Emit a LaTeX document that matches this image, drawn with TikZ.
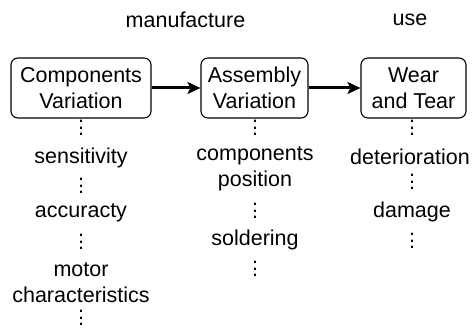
\documentclass[tikz,border=0pt]{standalone}
\usepackage{fontspec}
\setmainfont{Liberation Sans}
\usetikzlibrary{arrows.meta}
\newcommand\myvdots{\vbox{\baselineskip=6.5pt\lineskiplimit=-20pt\hbox{.}\hbox{.}\hbox{.}}}
\tikzset{
  box/.style={draw, line width=1.1pt, rounded corners=7pt, align=center, inner sep=0pt, minimum height=60pt},
  lbl/.style={align=center, inner sep=0pt},
  flow/.style={line width=3pt, -{Stealth[length=13pt,width=12pt,inset=3pt]}},
}
\begin{document}
\begin{tikzpicture}[x=1pt,y=-1pt,font=\fontsize{21.5}{26}\selectfont]
\useasboundingbox (0,0) rectangle (474,329);
\node[lbl] (man) at (185.5,20) {manufacture};
\node[lbl] (use) at (410,20) {use};
\node[box, minimum width=140pt] (cv) at (81,88) {Components\\Variation};
\node[box, minimum width=107pt] (av) at (254.5,88) {Assembly\\Variation};
\node[box, minimum width=105pt] (wt) at (413.5,88) {Wear\\and Tear};
\draw[flow] (cv) -- (av);
\draw[flow] (av) -- (wt);
% column 1
\node[lbl] (d11) at (81,128) {\myvdots};
\node[lbl] (sen) at (81,158) {sensitivity};
\node[lbl] (d12) at (81,186) {\myvdots};
\node[lbl] (acc) at (81,213) {accuracty};
\node[lbl] (d13) at (81,242) {\myvdots};
\node[lbl] (mot) at (81,283) {motor\\characteristics};
\node[lbl] (d14) at (81,318) {\myvdots};
% column 2
\node[lbl] (d21) at (255,128) {\myvdots};
\node[lbl] (cpo) at (255,169) {components\\position};
\node[lbl] (d22) at (255,211) {\myvdots};
\node[lbl] (sol) at (255,240) {soldering};
\node[lbl] (d23) at (255,269) {\myvdots};
% column 3
\node[lbl] (d31) at (412,128) {\myvdots};
\node[lbl] (det) at (410,157) {deterioration};
\node[lbl] (d32) at (412,182) {\myvdots};
\node[lbl] (dam) at (412,212) {damage};
\node[lbl] (d33) at (412,241) {\myvdots};
\end{tikzpicture}
\end{document}
